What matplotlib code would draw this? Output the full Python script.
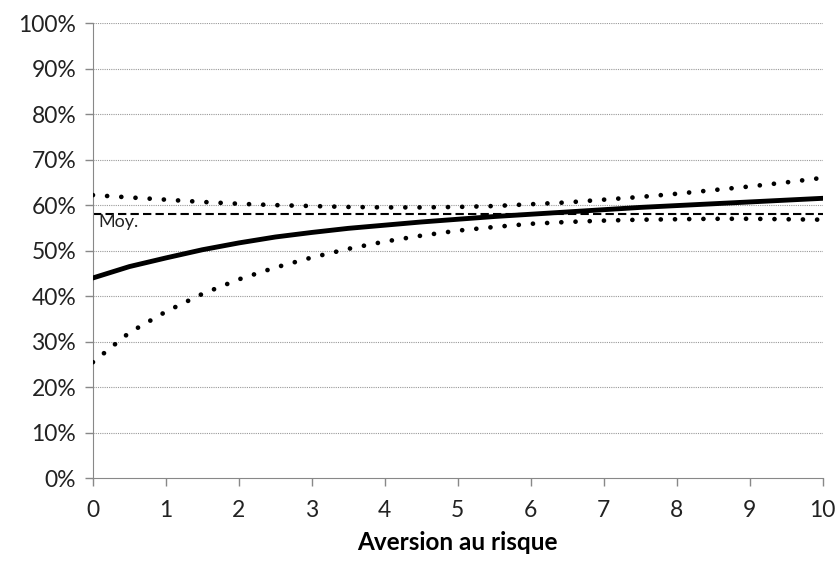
import numpy as np
import matplotlib.pyplot as plt
from matplotlib.ticker import PercentFormatter

plt.rcParams['font.family'] = ['Lato', 'DejaVu Sans']

aversion = [0, 0.5, 1, 1.5, 2, 2.5, 3, 3.5, 4, 4.5, 5, 5.5, 6, 6.5, 7, 7.5, 8, 8.5, 9, 9.5, 10]
moyenne_courbe = [44.0, 46.5, 48.4, 50.2, 51.7, 53.0, 54.0, 54.9, 55.6, 56.3, 56.9,
                  57.5, 58.0, 58.5, 59.0, 59.5, 59.9, 60.3, 60.7, 61.1, 61.5]
borne_haute = [62.2, 61.7, 61.2, 60.7, 60.3, 60.0, 59.8, 59.6, 59.5, 59.5, 59.6,
               59.8, 60.2, 60.6, 61.2, 61.8, 62.5, 63.3, 64.1, 65.0, 66.0]
borne_basse = [25.5, 32.0, 36.6, 40.5, 43.7, 46.3, 48.5, 50.4, 52.0, 53.3, 54.4,
               55.2, 55.9, 56.3, 56.6, 56.8, 56.9, 57.0, 57.0, 56.9, 56.8]
moy = 58.0

fig = plt.figure(figsize=(8.37, 5.62), dpi=100)
ax = fig.add_axes([0.111, 0.149, 0.872, 0.810])

for g in range(10, 101, 10):
    ax.plot([0, 10], [g, g], color='#999999', lw=0.8, ls=(0, (1, 1)), zorder=1)

ax.plot([0, 10], [moy, moy], color='black', lw=1.5, ls=(0, (4, 2)), zorder=2)
ax.text(0.08, moy - 1.8, 'Moy.', fontsize=13, va='center', ha='left', color='#222222')

ax.plot(aversion, borne_haute, color='black', lw=3.4, ls=(0, (0.01, 3.0)),
        dash_capstyle='round', zorder=3)
ax.plot(aversion, borne_basse, color='black', lw=3.4, ls=(0, (0.01, 3.0)),
        dash_capstyle='round', zorder=3)
ax.plot(aversion, moyenne_courbe, color='black', lw=3.5, solid_capstyle='round', zorder=4)

ax.set_xlim(0, 10)
ax.set_ylim(0, 100)
ax.set_xticks(range(0, 11))
ax.set_yticks(range(0, 101, 10))
ax.yaxis.set_major_formatter(PercentFormatter(decimals=0))
ax.tick_params(axis='both', labelsize=16.5, color='#888888', length=6, width=1,
               labelcolor='#222222', direction='out')
ax.tick_params(axis='x', pad=10)
ax.tick_params(axis='y', pad=6)
for s in ['top', 'right']:
    ax.spines[s].set_visible(False)
for s in ['left', 'bottom']:
    ax.spines[s].set_color('#888888')
ax.set_xlabel('Aversion au risque', fontsize=17.5, fontweight='bold', labelpad=7)
ax.set_clip_on(False)

fig.savefig('out.png', dpi=100)
